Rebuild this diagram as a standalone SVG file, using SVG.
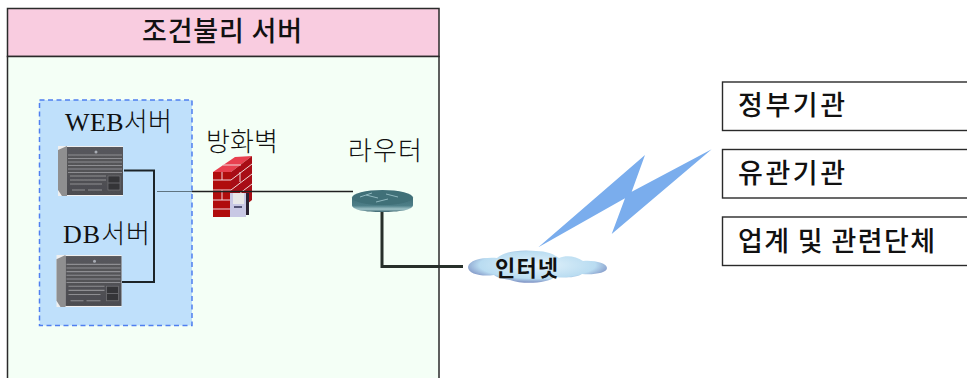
<svg xmlns="http://www.w3.org/2000/svg" xmlns:xlink="http://www.w3.org/1999/xlink" width="967" height="378" viewBox="0 0 967 378">
<style>
text{font-family:"Noto Sans CJK KR","Liberation Sans",sans-serif;fill:#111}
.thin{font-weight:300;font-size:26px}
.head{font-weight:500;font-size:27px}
.box{fill:#fff;stroke:#2a2a2a;stroke-width:1.4}
.lat{font-family:"Liberation Serif","Noto Sans CJK KR",serif}
</style>
<defs>
<filter id="soft" x="-5%" y="-5%" width="110%" height="110%"><feGaussianBlur stdDeviation="0.55"/></filter>
<linearGradient id="srv" x1="0" y1="0" x2="0" y2="1"><stop offset="0" stop-color="#58585c"/><stop offset="1" stop-color="#4c4c50"/></linearGradient>
<linearGradient id="rt" x1="0" y1="0" x2="0" y2="1"><stop offset="0" stop-color="#3f6f78"/><stop offset="0.55" stop-color="#4f7f88"/><stop offset="0.8" stop-color="#9fc3c8"/><stop offset="1" stop-color="#35606a"/></linearGradient>
<radialGradient id="cl" cx="0.5" cy="0.45" r="0.58"><stop offset="0" stop-color="#e4f3fb"/><stop offset="0.72" stop-color="#b9dcf1"/><stop offset="1" stop-color="#6f7fb8"/></radialGradient>
<g id="server" filter="url(#soft)">
<rect x="0" y="0" width="65" height="50" fill="#f0f0f0"/>
<polygon points="0,4 9,0 9,50 4,50 0,44" fill="#8f8f90"/>
<rect x="9" y="1" width="56" height="48" fill="url(#srv)"/>
<g stroke="#8e8e92" stroke-width="1">
<line x1="10" y1="9" x2="64" y2="9"/><line x1="10" y1="12.500" x2="64" y2="12.500"/><line x1="10" y1="16" x2="64" y2="16"/><line x1="10" y1="19.500" x2="64" y2="19.500"/><line x1="10" y1="23" x2="64" y2="23"/><line x1="10" y1="26.500" x2="64" y2="26.500"/>
<line x1="12" y1="30" x2="48" y2="30"/><line x1="12" y1="34" x2="48" y2="34"/><line x1="12" y1="38" x2="44" y2="38"/>
<line x1="14" y1="44" x2="27" y2="44"/><line x1="30" y1="44" x2="44" y2="44"/>
</g>
<rect x="50" y="30" width="12" height="14" fill="#343438" stroke="#77777a" stroke-width="0.7"/>
<line x1="50" y1="37" x2="62" y2="37" stroke="#66666a"/>
<circle cx="38" cy="6" r="1.500" fill="#a8acb4"/>
</g>
</defs>

<g id="zone">
<rect x="7.500" y="8.500" width="431.500" height="48" fill="#f9cce0" stroke="#2a2a2a" stroke-width="1.500"/>
<rect x="7.500" y="56.500" width="431.500" height="325" fill="#f4fff6" stroke="#2a2a2a" stroke-width="1.500"/>
<text class="head" x="142" y="41" textLength="160" lengthAdjust="spacing">조건불리 서버</text>
</g>
<g id="server-group">
<rect x="39.500" y="100" width="152.500" height="225.500" fill="#bfe0fb" stroke="#4f7ff0" stroke-width="1.500" stroke-dasharray="5 3.500"/>
</g>

<g id="connectors" fill="none">
<polyline points="124,170.500 154,170.500 154,282 122,282" stroke="#1c2428" stroke-width="2"/>
<line x1="157" y1="191.500" x2="192" y2="191.500" stroke="#5f7480" stroke-width="1.200"/>
<line x1="192" y1="191.500" x2="353" y2="191.500" stroke="#202020" stroke-width="1.300"/>
<polyline points="382,212 382,266.500 463,266.500" stroke="#27302a" stroke-width="3"/>
</g>

<g id="web-server">
<use xlink:href="#server" href="#server" x="58" y="146"/>
<text class="thin lat" x="65" y="131" textLength="107" lengthAdjust="spacing">WEB서버</text>
</g>
<g id="db-server">
<use xlink:href="#server" href="#server" transform="translate(56.500 255) scale(1 1.040)"/>
<text class="thin lat" x="63" y="243" textLength="87" lengthAdjust="spacing">DB서버</text>
</g>

<g id="firewall">
<g filter="url(#soft)">
<polygon points="213,172 235,157 252,156 231,172" fill="#e8404f"/>
<polygon points="213,172 231,172 231,217 213,217" fill="#b00a10"/>
<polygon points="231,172 252,156 252,200 231,217" fill="#a80c12"/>
<g stroke="#f0d8d8" stroke-width="1">
<line x1="213" y1="180" x2="231" y2="180"/><line x1="213" y1="190" x2="231" y2="190"/><line x1="213" y1="200" x2="231" y2="200"/><line x1="213" y1="209" x2="231" y2="209"/>
<line x1="231" y1="180" x2="252" y2="164"/><line x1="231" y1="190" x2="252" y2="174"/><line x1="231" y1="200" x2="252" y2="184"/>
<line x1="222" y1="172" x2="222" y2="180"/><line x1="222" y1="190" x2="222" y2="200"/><line x1="240" y1="172" x2="240" y2="182"/>
<line x1="223" y1="165" x2="241" y2="165"/>
</g>
</g>
<line x1="213" y1="191.500" x2="252" y2="191.500" stroke="#202020" stroke-width="1.300"/>
<g filter="url(#soft)">
<rect x="230" y="193" width="16" height="24" fill="#c8c8e4"/>
<rect x="233" y="193" width="11" height="11" fill="#e8e8e8"/>
<rect x="234" y="206" width="8" height="2" fill="#555577"/>
<rect x="246" y="193" width="3" height="22" fill="#2a2030"/>
</g>
<text class="thin" x="206" y="151" textLength="72" lengthAdjust="spacing">방화벽</text>
</g>

<g id="router">
<g filter="url(#soft)">
<path d="M352,198 V205 C352,210 365,212 382,212 C399,212 413,210 413,205 V198 Z" fill="url(#rt)"/>
<ellipse cx="382.500" cy="197.500" rx="30.500" ry="7.500" fill="#3f6f78"/>
<path d="M366,195 L378,198 M386,194 L398,197 M388,199 L376,202 M372,193 L360,197" stroke="#8fb8be" stroke-width="1" fill="none"/>
</g>
<text class="thin" x="348" y="160" textLength="74" lengthAdjust="spacing">라우터</text>
</g>

<g id="internet">
<path filter="url(#soft)" d="M468,267 C469,260 483,257 497,258 C503,252 520,249 536,251 C546,251 554,254 559,258 C566,255 576,256 583,261 C594,260 607,263 607,268 C607,273 594,275 582,274 C576,278 562,278 555,277 C548,283 524,285 510,280 C502,279 496,277 494,275 C482,277 468,274 468,267 Z" fill="url(#cl)"/>
<text x="495" y="276" font-size="22" font-weight="700" textLength="63" lengthAdjust="spacing">인터넷</text>
</g>

<g id="lightning">
<polygon filter="url(#soft)" points="645,155 631.700,191.700 711.700,149.300 611.700,234 625,198.300 538.300,247.300" fill="#7aaded"/>
</g>

<g id="agency-1">
<rect class="box" x="722.500" y="82" width="260" height="48.500"/>
<text class="head" x="738" y="115" textLength="107" lengthAdjust="spacing">정부기관</text>
</g>
<g id="agency-2">
<rect class="box" x="722.500" y="149.500" width="260" height="48.500"/>
<text class="head" x="738" y="183" textLength="107" lengthAdjust="spacing">유관기관</text>
</g>
<g id="agency-3">
<rect class="box" x="722.500" y="217" width="260" height="48.500"/>
<text class="head" x="738" y="251" textLength="197" lengthAdjust="spacing">업계 및 관련단체</text>
</g>
</svg>
